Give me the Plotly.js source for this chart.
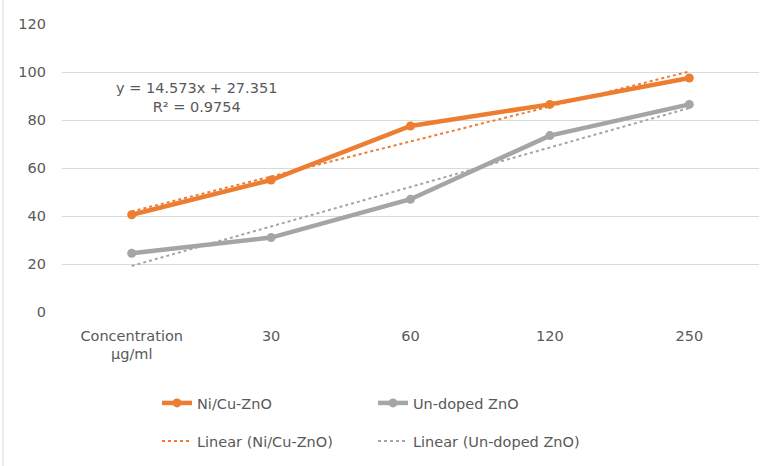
<!DOCTYPE html>
<html>
<head>
<meta charset="utf-8">
<script src="https://cdn.plot.ly/plotly-3.0.1.min.js"></script>
<style>
  html, body { margin: 0; padding: 0; background: #fff; }
  #chart { width: 762px; height: 466px; }
</style>
</head>
<body>
<div id="chart"></div>
<script>
// category labels on the x axis
var cats = ['Concentration<br>μg/ml', '30', '60', '120', '250'];

// values
var nicu = [40.5, 55, 77.5, 86.5, 97.5];
var undoped = [24.5, 31, 47, 73.5, 86.5];

// linear trendline ends (first and last category)
var trendCats = [cats[0], cats[4]];
var nicuTrend = [41.9, 100.2];
var undopedTrend = [19.2, 85];

var orange = '#ED7D31', grey = '#A5A5A5', txt = '#595959';
var fnt = 'DejaVu Sans, sans-serif';
var fs = 14.5;

var data = [
  {x: cats, y: nicu, name: 'Ni/Cu-ZnO', mode: 'lines+markers', type: 'scatter',
   line: {color: orange, width: 4.5}, marker: {color: orange, size: 9}, legend: 'legend'},
  {x: cats, y: undoped, name: 'Un-doped ZnO', mode: 'lines+markers', type: 'scatter',
   line: {color: grey, width: 4.5}, marker: {color: grey, size: 9}, legend: 'legend'},
  {x: trendCats, y: nicuTrend, name: 'Linear (Ni/Cu-ZnO)', mode: 'lines', type: 'scatter',
   line: {color: orange, width: 2, dash: 'dot'}, legend: 'legend2'},
  {x: trendCats, y: undopedTrend, name: 'Linear (Un-doped ZnO)', mode: 'lines', type: 'scatter',
   line: {color: grey, width: 2, dash: 'dot'}, legend: 'legend2'}
];

var legendBase = {
  orientation: 'h', xref: 'container', yref: 'container', xanchor: 'left', yanchor: 'middle',
  x: 157 / 762, entrywidth: 171, font: {family: fnt, size: fs, color: txt},
  bgcolor: 'rgba(0,0,0,0)', borderwidth: 0
};

var layout = {
  width: 762, height: 466,
  margin: {l: 62, r: 3, t: 24, b: 154},
  paper_bgcolor: '#fff', plot_bgcolor: '#fff',
  font: {family: fnt, size: fs, color: txt},
  xaxis: {
    type: 'category', range: [-0.5, 4.5], showgrid: false, zeroline: false,
    showline: false, ticks: '', ticklabelstandoff: 13,
    tickfont: {family: fnt, size: fs, color: txt}
  },
  yaxis: {
    range: [0, 120], dtick: 20, showgrid: true, gridcolor: '#D9D9D9', gridwidth: 1,
    zeroline: false, showline: false, ticks: '', ticklabelstandoff: 15,
    tickfont: {family: fnt, size: fs, color: txt}
  },
  legend: Object.assign({}, legendBase, {y: 1 - 403 / 466}),
  legend2: Object.assign({}, legendBase, {y: 1 - 441 / 466}),
  annotations: [{
    xref: 'paper', yref: 'paper', xanchor: 'center', yanchor: 'middle',
    x: (196 - 62) / 697, y: (311.7 - 97.5) / 287.2,
    text: 'y = 14.573x + 27.351<br>R² = 0.9754', showarrow: false, align: 'center',
    font: {family: fnt, size: fs, color: txt}
  }],
  shapes: [{
    type: 'line', xref: 'paper', yref: 'paper',
    x0: (3 - 62) / 697, x1: (3 - 62) / 697, y0: (311.7 - 466) / 287.2, y1: 311.7 / 287.2,
    line: {color: '#D9D9D9', width: 1}
  }]
};

Plotly.newPlot('chart', data, layout, {displayModeBar: false, staticPlot: true});
</script>
</body>
</html>
